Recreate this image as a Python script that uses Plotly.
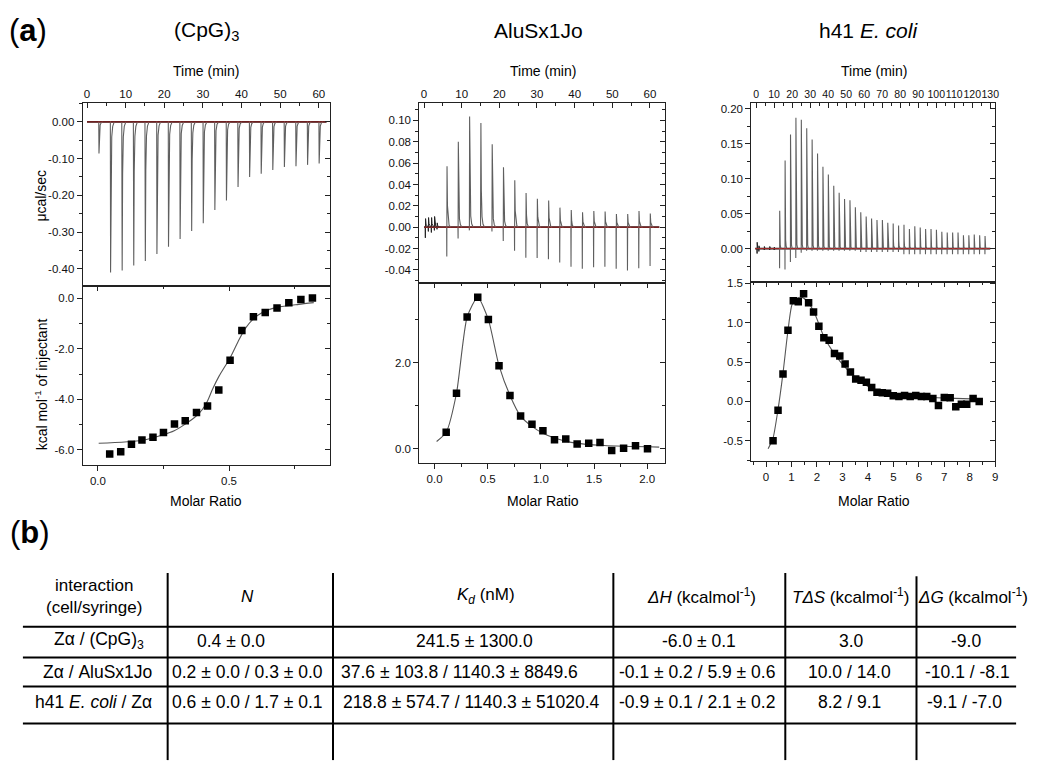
import plotly.graph_objects as go

# ======================= DATA =======================
panel_titles = ["(CpG)<sub>3</sub>", "AluSx1Jo", "h41 <i>E. coli</i>"]

# ---- (CpG)3 : raw thermogram (injection time, min / peak, ucal/s) ----
inj_t1 = [3, 6, 9, 12, 15, 18, 21, 24, 27, 30, 33, 36, 39, 42, 45, 48, 51, 54, 57, 60]
first_1 = [0.0, 0.0, 0.0, 0.0, 0.0, 0.0, 0.0, 0.0, 0.0, 0.0,
           0.0, 0.0, 0.0, 0.0, 0.0, 0.0, 0.0, 0.0, 0.0, 0.0]
main_1 = [-0.086, -0.410, -0.405, -0.391, -0.379, -0.360, -0.340, -0.319, -0.297, -0.276,
          -0.240, -0.214, -0.177, -0.150, -0.141, -0.131, -0.123, -0.121, -0.117, -0.113]
span_1 = [0.0, 62.0]
# integrated heats
ratio_1 = [0.045, 0.087, 0.128, 0.168, 0.210, 0.250, 0.292, 0.333, 0.376, 0.418,
           0.461, 0.504, 0.549, 0.593, 0.638, 0.683, 0.728, 0.774, 0.818]
heat_1 = [-6.16, -6.07, -5.78, -5.61, -5.50, -5.31, -4.98, -4.85, -4.52, -4.26,
          -3.63, -2.45, -1.27, -0.73, -0.56, -0.38, -0.18, -0.05, 0.01]
fit_x1 = [0.003, 0.167, 0.249, 0.291, 0.333, 0.376, 0.399, 0.418, 0.437, 0.462,
          0.504, 0.538, 0.563, 0.589, 0.627, 0.677, 0.766, 0.823]
fit_y1 = [-5.74, -5.63, -5.40, -5.24, -4.98, -4.65, -4.39, -4.06, -3.60, -3.08,
          -2.36, -1.64, -1.18, -0.85, -0.56, -0.37, -0.24, -0.17]

# ---- AluSx1Jo ----
inj_t2 = [6, 9, 12, 15, 18, 21, 24, 27, 30, 33, 36, 39, 42, 45, 48, 51, 54, 57, 60]
first_2 = [-0.0276, -0.0106, -0.003, 0.0, -0.004, -0.013, -0.022, -0.0286, -0.029, -0.030,
           -0.033, -0.037, -0.039, -0.0376, -0.037, -0.039, -0.0407, -0.0385, -0.0363]
main_2 = [0.0571, 0.0800, 0.1037, 0.0975, 0.0776, 0.0562, 0.0440, 0.0320, 0.0267, 0.0250,
          0.0183, 0.0160, 0.0140, 0.0152, 0.0146, 0.0124, 0.0124, 0.0152, 0.0127]
noise_t2 = [0.3, 1.1, 1.9, 2.7, 3.4]
noise_lo2 = [-0.010, -0.004, -0.005, -0.003, -0.002]
noise_hi2 = [0.008, 0.009, 0.009, 0.010, 0.004]
span_2 = [0.0, 62.5]
ratio_2 = [0.109, 0.206, 0.306, 0.406, 0.506, 0.606, 0.709, 0.809, 0.916, 1.019,
           1.128, 1.234, 1.341, 1.450, 1.556, 1.666, 1.778, 1.890, 2.003]
heat_2 = [0.385, 1.29, 3.06, 3.52, 3.00, 1.93, 1.24, 0.76, 0.57, 0.42,
          0.21, 0.23, 0.11, 0.13, 0.146, -0.04, 0.015, 0.07, 0.00]
fit_x2 = [0.019, 0.109, 0.206, 0.306, 0.406, 0.506, 0.606, 0.709, 0.809, 0.916,
          1.019, 1.128, 1.284, 1.597, 2.113]
fit_y2 = [0.17, 0.385, 1.29, 3.06, 3.52, 3.00, 1.93, 1.24, 0.76, 0.52,
          0.36, 0.25, 0.15, 0.077, 0.04]

# ---- h41 E. coli ----
inj_t3 = [13, 16, 19, 22, 25, 28, 31, 34, 37, 40, 43, 46, 49, 52, 55, 58, 61, 64, 67, 70,
          73, 76, 79, 82, 85, 88, 91, 94, 97, 100, 103, 106, 109, 112, 115, 118, 121, 124, 127]
first_3 = [-0.028, -0.030, -0.019, -0.0135, -0.006, -0.003, -0.003, -0.003, -0.003, -0.003,
           -0.003, -0.003, -0.003, -0.003, -0.003, -0.005, -0.005, -0.005, -0.005, -0.005,
           -0.005, -0.005, -0.005, -0.008, -0.008, -0.008, -0.008, -0.008, -0.008, -0.008,
           -0.008, -0.008, -0.008, -0.008, -0.008, -0.008, -0.008, -0.008, -0.008]
main_3 = [0.054, 0.126, 0.163, 0.187, 0.184, 0.172, 0.156, 0.136, 0.117, 0.106,
          0.090, 0.080, 0.071, 0.069, 0.059, 0.052, 0.046, 0.043, 0.041, 0.041,
          0.037, 0.036, 0.033, 0.034, 0.028, 0.032, 0.030, 0.028, 0.028, 0.027,
          0.024, 0.023, 0.023, 0.023, 0.019, 0.019, 0.020, 0.019, 0.018]
noise_t3 = [0.5, 1.5, 4.5, 7.5, 10.0]
noise_lo3 = [-0.007, -0.004, -0.002, -0.002, -0.002]
noise_hi3 = [0.009, 0.004, 0.003, 0.003, 0.002]
span_3 = [-0.5, 130.0]
ratio_3 = [0.274, 0.47, 0.665, 0.86, 1.07, 1.265, 1.474, 1.67, 1.865, 2.074,
           2.27, 2.478, 2.687, 2.896, 3.104, 3.313, 3.52, 3.73, 3.94, 4.148,
           4.356, 4.565, 4.774, 4.995, 5.217, 5.44, 5.66, 5.88, 6.10, 6.31,
           6.55, 6.77, 7.00, 7.23, 7.45, 7.67, 7.88, 8.13, 8.37]
heat_3 = [-0.50, -0.113, 0.349, 0.903, 1.277, 1.265, 1.366, 1.252, 1.134, 0.954,
          0.807, 0.777, 0.609, 0.576, 0.475, 0.374, 0.286, 0.269, 0.244, 0.176,
          0.118, 0.109, 0.105, 0.071, 0.063, 0.076, 0.063, 0.076, 0.063, 0.063,
          0.038, -0.05, 0.05, 0.046, -0.067, -0.034, -0.034, 0.038, 0.0]
fit_x3 = [0.08, 0.27, 0.47, 0.665, 0.86, 1.02, 1.21, 1.41, 1.67, 1.93,
          2.26, 2.65, 3.17, 3.69, 4.21, 4.87, 5.78, 7.08, 8.39]
fit_y3 = [-0.60, -0.47, -0.10, 0.36, 0.90, 1.23, 1.31, 1.32, 1.25, 1.10,
          0.83, 0.62, 0.41, 0.26, 0.155, 0.092, 0.059, 0.042, 0.03]

# ---- tick values / labels ----
time_ticks_60 = [0, 10, 20, 30, 40, 50, 60]
time_ticks_130 = [0, 10, 20, 30, 40, 50, 60, 70, 80, 90, 100, 110, 120, 130]
p1_top_yv = [0.0, -0.1, -0.2, -0.3, -0.4]
p1_top_yt = ["0.00", "-0.10", "-0.20", "-0.30", "-0.40"]
p1_bot_xv = [0.0, 0.5]
p1_bot_xt = ["0.0", "0.5"]
p1_bot_yv = [0.0, -2.0, -4.0, -6.0]
p1_bot_yt = ["0.0", "-2.0", "-4.0", "-6.0"]
p2_top_yv = [0.10, 0.08, 0.06, 0.04, 0.02, 0.0, -0.02, -0.04]
p2_top_yt = ["0.10", "0.08", "0.06", "0.04", "0.02", "0.00", "-0.02", "-0.04"]
p2_bot_xv = [0.0, 0.5, 1.0, 1.5, 2.0]
p2_bot_xt = ["0.0", "0.5", "1.0", "1.5", "2.0"]
p2_bot_yv = [0.0, 2.0]
p2_bot_yt = ["0.0", "2.0"]
p3_top_yv = [0.20, 0.15, 0.10, 0.05, 0.0]
p3_top_yt = ["0.20", "0.15", "0.10", "0.05", "0.00"]
p3_bot_xv = [0, 1, 2, 3, 4, 5, 6, 7, 8, 9]
p3_bot_xt = ["0", "1", "2", "3", "4", "5", "6", "7", "8", "9"]
p3_bot_yv = [-0.5, 0.0, 0.5, 1.0, 1.5]
p3_bot_yt = ["-0.5", "0.0", "0.5", "1.0", "1.5"]

# ---- table (b) ----
table_header = ["interaction<br>(cell/syringe)", "<i>N</i>", "<i>K<sub>d</sub></i> (nM)",
                "<i>ΔH</i> (kcalmol<sup>-1</sup>)", "<i>TΔS</i> (kcalmol<sup>-1</sup>)",
                "<i>ΔG</i> (kcalmol<sup>-1</sup>)"]
table_rows = [
    ["Zα / (CpG)<sub>3</sub>", "0.4 ± 0.0", "241.5 ± 1300.0", "-6.0 ± 0.1", "3.0", "-9.0"],
    ["Zα / AluSx1Jo", "0.2 ± 0.0 / 0.3 ± 0.0", "37.6 ± 103.8 / 1140.3 ± 8849.6",
     "-0.1 ± 0.2 / 5.9 ± 0.6", "10.0 / 14.0", "-10.1 / -8.1"],
    ["h41 <i>E. coli</i> / Zα", "0.6 ± 0.0 / 1.7 ± 0.1", "218.8 ± 574.7 / 1140.3 ± 51020.4",
     "-0.9 ± 0.1 / 2.1 ± 0.2", "8.2 / 9.1", "-9.1 / -7.0"],
]

# ======================= STYLE / LAYOUT =======================
W, H = 1050, 773
FONT = "Liberation Sans, Arial, Helvetica, sans-serif"
AX = "#222222"


def px(x):
    return x / W


def py(y):
    return 1 - y / H


SHAPE_DT = [0.0, 0.04, 0.10, 0.22, 0.40, 0.65, 1.05]
SHAPE_F = [0.0, None, 1.0, 0.35, 0.10, 0.03, 0.0]


def spikes(times, first, main):
    xs, ys = [], []
    for t, f, m in zip(times, first, main):
        for dt, fr in zip(SHAPE_DT, SHAPE_F):
            xs.append(t + dt)
            ys.append(f if fr is None else fr * m)
        xs.append(None)
        ys.append(None)
    return xs, ys


fig = go.Figure()

panels = [
    dict(t=inj_t1, f=first_1, m=main_1, nt=None, span=span_1,
         rx=ratio_1, hy=heat_1, fx=fit_x1, fy=fit_y1),
    dict(t=inj_t2, f=first_2, m=main_2, nt=(noise_t2, noise_lo2, noise_hi2), span=span_2,
         rx=ratio_2, hy=heat_2, fx=fit_x2, fy=fit_y2),
    dict(t=inj_t3, f=first_3, m=main_3, nt=(noise_t3, noise_lo3, noise_hi3), span=span_3,
         rx=ratio_3, hy=heat_3, fx=fit_x3, fy=fit_y3),
]

for k, p in enumerate(panels):
    xa_top, ya_top = f"x{2*k+1}", f"y{2*k+1}"
    xa_bot, ya_bot = f"x{2*k+2}", f"y{2*k+2}"
    fig.add_trace(go.Scatter(x=p["span"], y=[0, 0], mode="lines",
                             line=dict(color="#111111", width=1.6),
                             xaxis=xa_top, yaxis=ya_top, showlegend=False, hoverinfo="skip"))
    if p["nt"] is not None:
        nx, ny = spikes(p["nt"][0], p["nt"][1], p["nt"][2])
        fig.add_trace(go.Scatter(x=nx, y=ny, mode="lines",
                                 line=dict(color="#222222", width=1),
                                 xaxis=xa_top, yaxis=ya_top, showlegend=False, hoverinfo="skip"))
    sx, sy = spikes(p["t"], p["f"], p["m"])
    fig.add_trace(go.Scatter(x=sx, y=sy, mode="lines",
                             line=dict(color="#5f5f5f", width=1.1),
                             xaxis=xa_top, yaxis=ya_top, showlegend=False, hoverinfo="skip"))
    fig.add_trace(go.Scatter(x=p["span"], y=[0, 0], mode="lines",
                             line=dict(color="#d23030", width=0.8),
                             xaxis=xa_top, yaxis=ya_top, showlegend=False, hoverinfo="skip"))
    fig.add_trace(go.Scatter(x=p["fx"], y=p["fy"], mode="lines",
                             line=dict(color="#555555", width=1.1, shape="spline", smoothing=0.6),
                             xaxis=xa_bot, yaxis=ya_bot, showlegend=False, hoverinfo="skip"))
    fig.add_trace(go.Scatter(x=p["rx"], y=p["hy"], mode="markers",
                             marker=dict(symbol="square", size=7.5, color="#000000"),
                             xaxis=xa_bot, yaxis=ya_bot, showlegend=False))

geo = [
    (83, 331, 99, 282.5, [-1.12, 62.84], [-0.446, 0.0505], time_ticks_60, None, 5,
     p1_top_yv, p1_top_yt, 0.05, True, 11.5),
    (83, 331, 282.5, 463.3, [-0.058, 0.884], [-6.61, 0.50], p1_bot_xv, p1_bot_xt, 0.25,
     p1_bot_yv, p1_bot_yt, 1.0, False, 11.5),
    (421, 667.7, 99, 280, [-1.24, 64.05], [-0.0525, 0.116], time_ticks_60, None, 5,
     p2_top_yv, p2_top_yt, 0.01, True, 11.5),
    (421, 667.7, 280, 460.7, [-0.143, 2.169], [-0.323, 3.846], p2_bot_xv, p2_bot_xt, 0.25,
     p2_bot_yv, p2_bot_yt, 1.0, False, 11.5),
    (754.3, 999.3, 99, 279, [-2.6, 132.9], [-0.048, 0.2076], time_ticks_130, None, 5,
     p3_top_yv, p3_top_yt, 0.025, True, 10.5),
    (754.3, 999.3, 279, 458.7, [-0.575, 9.01], [-0.752, 1.513], p3_bot_xv, p3_bot_xt, 0.5,
     p3_bot_yv, p3_bot_yt, 0.25, False, 11.5),
]

layout = {}
for i, (x0, x1, yt, yb, xr, yr, xv, xt, xm, yv, ytx, ym, is_top, xfs) in enumerate(geo, start=1):
    xname = "xaxis" if i == 1 else f"xaxis{i}"
    yname = "yaxis" if i == 1 else f"yaxis{i}"
    xtext = xt if xt is not None else [str(v) for v in xv]
    layout[xname] = dict(
        domain=[px(x0), px(x1)], range=xr, anchor=f"y{i}",
        side="top" if is_top else "bottom",
        showline=True, mirror=True, linecolor=AX, linewidth=1.2,
        showgrid=False, zeroline=False,
        tickmode="array", tickvals=xv, ticktext=xtext, tickangle=0,
        ticks="inside" if is_top else "outside", ticklen=5, tickwidth=1, tickcolor=AX,
        minor=dict(tickmode="linear", tick0=0, dtick=xm, ticklen=3, tickwidth=1, tickcolor=AX,
                   ticks="inside" if is_top else "outside"),
        tickfont=dict(family=FONT, size=xfs, color="#111111"),
    )
    layout[yname] = dict(
        domain=[py(yb), py(yt)], range=yr, anchor=f"x{i}", side="left",
        showline=True, mirror=True, linecolor=AX, linewidth=1.2,
        showgrid=False, zeroline=False,
        tickmode="array", tickvals=yv, ticktext=ytx,
        ticks="outside", ticklen=5, tickwidth=1, tickcolor=AX,
        minor=dict(tickmode="linear", tick0=0, dtick=ym, ticklen=3, tickwidth=1, tickcolor=AX,
                   ticks="outside"),
        tickfont=dict(family=FONT, size=11.5, color="#111111"),
    )
    j = i + 6
    layout[f"yaxis{j}"] = dict(
        overlaying=f"y{i}", side="right", anchor=f"x{i}", range=yr,
        showline=False, showgrid=False, zeroline=False, showticklabels=False,
        tickmode="array", tickvals=yv, ticks="inside", ticklen=5, tickwidth=1, tickcolor=AX,
        minor=dict(tickmode="linear", tick0=0, dtick=ym, ticklen=3, tickwidth=1, tickcolor=AX,
                   ticks="inside"),
    )
    fig.add_trace(go.Scatter(x=[None], y=[None], xaxis=f"x{i}", yaxis=f"y{j}",
                             showlegend=False, hoverinfo="skip"))
    if not is_top:
        layout[f"xaxis{j}"] = dict(
            overlaying=f"x{i}", side="top", anchor=f"y{i}", range=xr,
            showline=False, showgrid=False, zeroline=False, showticklabels=False,
            tickmode="array", tickvals=xv, ticks="inside", ticklen=5, tickwidth=1, tickcolor=AX,
            minor=dict(tickmode="linear", tick0=0, dtick=xm, ticklen=3, tickwidth=1,
                       tickcolor=AX, ticks="inside"),
        )
        fig.add_trace(go.Scatter(x=[None], y=[None], xaxis=f"x{j}", yaxis=f"y{i}",
                                 showlegend=False, hoverinfo="skip"))

annotations = []


def ann(text, x, y, size, angle=0, xanchor="center"):
    annotations.append(dict(text=text, x=px(x), y=py(y), xref="paper", yref="paper",
                            showarrow=False, xanchor=xanchor, yanchor="middle",
                            textangle=angle, font=dict(family=FONT, size=size, color="#000000")))


ann("(<b>a</b>)", 28, 26, 31)
ann("(<b>b</b>)", 30, 531, 31)
for text, cx in zip(panel_titles, [207, 541, 872]):
    ann(text, cx, 26, 21)
for cx in [207, 545, 877]:
    ann("Time (min)", cx, 66, 14)
    ann("Molar Ratio", cx, 499, 14)
ann("μcal/sec", 41, 192, 14, angle=-90)
ann("kcal mol<sup>-1</sup> of injectant", 41, 382, 14, angle=-90)

header_x = [94, 248, 488, 704, 854, 977]
header_y = 595
row_y = [640, 671, 702]
cell_x = [
    [99, 232, 476, 702, 855, 970],
    [98, 248, 461, 700, 853, 971],
    [94, 248, 473, 700, 853, 968],
]
TS = 17.5
for text, cx in zip(table_header, header_x):
    ann(text, cx, header_y, 17)
for r, row in enumerate(table_rows):
    for c, text in enumerate(row):
        ann(text, cell_x[r][c], row_y[r], TS)

shapes = []
for yline in [625.7, 656.7, 686, 723.3]:
    shapes.append(dict(type="line", xref="paper", yref="paper", x0=px(23), x1=px(1020),
                       y0=py(yline), y1=py(yline), line=dict(color="#000000", width=2)))
for xline, ytop in [(168.3, 571.7), (334.3, 571.7), (615.7, 571.7), (788.3, 571.7), (920, 575)]:
    shapes.append(dict(type="line", xref="paper", yref="paper", x0=px(xline), x1=px(xline),
                       y0=py(ytop), y1=py(760), line=dict(color="#000000", width=2)))

fig.update_layout(
    width=W, height=H, margin=dict(l=0, r=0, t=0, b=0),
    paper_bgcolor="white", plot_bgcolor="white",
    annotations=annotations, shapes=shapes, showlegend=False,
    font=dict(family=FONT, color="#000000"),
    **layout,
)

fig.write_html("out.html", config={"displayModeBar": False},
               post_script="document.body.style.margin='0px';")
